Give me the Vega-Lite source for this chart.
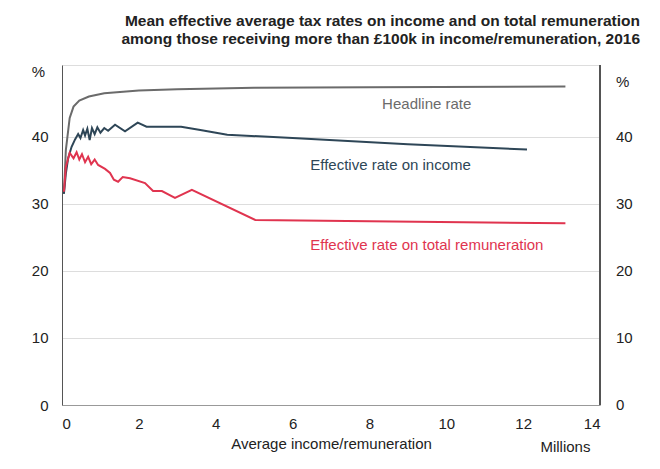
{
  "$schema": "https://vega.github.io/schema/vega-lite/v6.json",
  "autosize": "none",
  "width": 538,
  "height": 340,
  "padding": {"left": 62, "top": 65, "right": 60, "bottom": 64},
  "background": "white",
  "title": {
    "text": ["Mean effective average tax rates on income and on total remuneration", "among those receiving more than £100k in income/remuneration, 2016"],
    "anchor": "end",
    "align": "right",
    "frame": "group",
    "dx": 40,
    "offset": 17,
    "fontSize": 15.5,
    "fontWeight": "bold",
    "font": "Liberation Sans",
    "color": "#222222",
    "lineHeight": 18
  },
  "data": {
    "values": [
      {"s": "Headline", "x": 0.05, "y": 31.5},
      {"s": "Headline", "x": 0.1, "y": 38},
      {"s": "Headline", "x": 0.2, "y": 42.8},
      {"s": "Headline", "x": 0.3, "y": 44.5},
      {"s": "Headline", "x": 0.45, "y": 45.4},
      {"s": "Headline", "x": 0.7, "y": 46},
      {"s": "Headline", "x": 1.1, "y": 46.5},
      {"s": "Headline", "x": 2, "y": 46.9},
      {"s": "Headline", "x": 3, "y": 47.1},
      {"s": "Headline", "x": 5, "y": 47.3},
      {"s": "Headline", "x": 8, "y": 47.4},
      {"s": "Headline", "x": 13.1, "y": 47.5},
      {"s": "Income", "x": 0.05, "y": 31.5},
      {"s": "Income", "x": 0.1, "y": 34.5},
      {"s": "Income", "x": 0.16, "y": 36.8},
      {"s": "Income", "x": 0.25, "y": 38.5},
      {"s": "Income", "x": 0.34, "y": 39.6},
      {"s": "Income", "x": 0.42, "y": 40.4},
      {"s": "Income", "x": 0.48, "y": 39.8},
      {"s": "Income", "x": 0.55, "y": 41},
      {"s": "Income", "x": 0.6, "y": 40.2},
      {"s": "Income", "x": 0.66, "y": 41.2},
      {"s": "Income", "x": 0.72, "y": 39.5},
      {"s": "Income", "x": 0.78, "y": 41.3},
      {"s": "Income", "x": 0.85, "y": 40.4},
      {"s": "Income", "x": 0.92, "y": 41.4},
      {"s": "Income", "x": 1.0, "y": 40.6},
      {"s": "Income", "x": 1.1, "y": 41.3},
      {"s": "Income", "x": 1.2, "y": 40.9},
      {"s": "Income", "x": 1.38, "y": 41.8},
      {"s": "Income", "x": 1.64, "y": 40.8},
      {"s": "Income", "x": 1.97, "y": 42.1},
      {"s": "Income", "x": 2.2, "y": 41.5},
      {"s": "Income", "x": 3.1, "y": 41.5},
      {"s": "Income", "x": 3.6, "y": 41},
      {"s": "Income", "x": 4.3, "y": 40.3},
      {"s": "Income", "x": 6, "y": 39.8},
      {"s": "Income", "x": 9, "y": 38.9},
      {"s": "Income", "x": 12.1, "y": 38.1},
      {"s": "Remuneration", "x": 0.05, "y": 31.8},
      {"s": "Remuneration", "x": 0.1, "y": 35.5},
      {"s": "Remuneration", "x": 0.2, "y": 37.6},
      {"s": "Remuneration", "x": 0.3, "y": 36.8},
      {"s": "Remuneration", "x": 0.38, "y": 37.7},
      {"s": "Remuneration", "x": 0.45, "y": 36.6},
      {"s": "Remuneration", "x": 0.52, "y": 37.4},
      {"s": "Remuneration", "x": 0.6, "y": 36.2},
      {"s": "Remuneration", "x": 0.68, "y": 37},
      {"s": "Remuneration", "x": 0.76, "y": 35.9},
      {"s": "Remuneration", "x": 0.85, "y": 36.6},
      {"s": "Remuneration", "x": 0.94, "y": 35.8},
      {"s": "Remuneration", "x": 1.12, "y": 35.2},
      {"s": "Remuneration", "x": 1.25, "y": 34.6},
      {"s": "Remuneration", "x": 1.35, "y": 33.6},
      {"s": "Remuneration", "x": 1.46, "y": 33.3},
      {"s": "Remuneration", "x": 1.58, "y": 34},
      {"s": "Remuneration", "x": 1.77, "y": 33.8},
      {"s": "Remuneration", "x": 2.16, "y": 33.1},
      {"s": "Remuneration", "x": 2.37, "y": 31.9},
      {"s": "Remuneration", "x": 2.6, "y": 31.9},
      {"s": "Remuneration", "x": 2.94, "y": 30.9},
      {"s": "Remuneration", "x": 3.38, "y": 32.1},
      {"s": "Remuneration", "x": 5.03, "y": 27.6},
      {"s": "Remuneration", "x": 8, "y": 27.4},
      {"s": "Remuneration", "x": 13.1, "y": 27.1}
    ]
  },
  "layer": [
    {
      "mark": {"type": "line", "strokeWidth": 2, "clip": true},
      "encoding": {
        "x": {
          "field": "x", "type": "quantitative",
          "scale": {"domain": [0, 14], "nice": false},
          "axis": {"values": [0, 2, 4, 6, 8, 10, 12, 14], "title": "Average income/remuneration", "titleFontWeight": "normal", "titleFontSize": 15, "titlePadding": 5, "domainColor": "#999999", "ticks": false, "labelPadding": 11, "grid": false}
        },
        "y": {
          "field": "y", "type": "quantitative",
          "scale": {"domain": [0, 50.7], "nice": false},
          "axis": {"values": [0, 10, 20, 30, 40], "title": "%", "titleAngle": 0, "titleY": 14, "titleX": -24, "titleFontWeight": "normal", "titleFontSize": 15, "ticks": false, "labelPadding": 14, "domainColor": "#555555", "gridColor": "#dddddd"}
        },
        "color": {
          "field": "s", "type": "nominal", "legend": null,
          "scale": {"domain": ["Headline", "Income", "Remuneration"], "range": ["#6b6b6b", "#2e4657", "#e0344f"]}
        }
      }
    },
    {
      "mark": {"type": "rule", "stroke": "#555555"},
      "encoding": {"x": {"datum": 14}}
    },
    {
      "data": {"values": [{"v": 0}, {"v": 10}, {"v": 20}, {"v": 30}, {"v": 40}]},
      "mark": {"type": "text", "fontSize": 15, "align": "left", "dx": 16, "color": "#222222", "font": "Liberation Sans"},
      "encoding": {"x": {"datum": 14}, "y": {"field": "v", "type": "quantitative"}, "text": {"field": "v", "type": "nominal"}}
    },
    {
      "data": {"values": [{"t": "%", "x": 14, "y": 48.2}]},
      "mark": {"type": "text", "fontSize": 15, "align": "left", "dx": 16, "color": "#222222", "font": "Liberation Sans"},
      "encoding": {"x": {"field": "x", "type": "quantitative"}, "y": {"field": "y", "type": "quantitative"}, "text": {"field": "t"}}
    },
    {
      "data": {"values": [
        {"t": "Headline rate", "x": 8.33, "y": 44.9, "c": "Headline"},
        {"t": "Effective rate on income", "x": 6.46, "y": 35.8, "c": "Income"},
        {"t": "Effective rate on total remuneration", "x": 6.46, "y": 23.9, "c": "Remuneration"}
      ]},
      "mark": {"type": "text", "fontSize": 15, "align": "left", "baseline": "middle", "font": "Liberation Sans"},
      "encoding": {
        "x": {"field": "x", "type": "quantitative"},
        "y": {"field": "y", "type": "quantitative"},
        "text": {"field": "t"},
        "color": {"field": "c", "type": "nominal", "legend": null}
      }
    },
    {
      "data": {"values": [{"t": "Millions", "x": 12.45, "y": -6.2}]},
      "mark": {"type": "text", "fontSize": 15, "align": "left", "baseline": "middle", "font": "Liberation Sans", "color": "#222222"},
      "encoding": {"x": {"field": "x", "type": "quantitative"}, "y": {"field": "y", "type": "quantitative"}, "text": {"field": "t"}}
    }
  ],
  "config": {
    "font": "Liberation Sans",
    "view": {"stroke": "#dddddd"},
    "axis": {"labelFontSize": 15, "labelColor": "#222222", "titleColor": "#222222", "labelFont": "Liberation Sans", "titleFont": "Liberation Sans"}
  }
}
